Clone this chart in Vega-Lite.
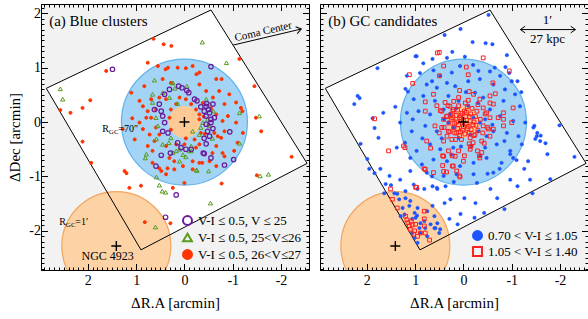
{
"$schema": "https://vega.github.io/schema/vega-lite/v6.json",
"padding": {"left": 7, "top": 0, "right": 0, "bottom": 0},
"background": "white",
"spacing": 9,
"config": {
  "view": {"fill": "#f2f2f2", "stroke": "black", "strokeWidth": 1},
  "axis": {"domainColor": "black", "tickColor": "black", "labelColor": "black", "titleColor": "black", "labelFont": "Liberation Serif", "titleFont": "Liberation Serif", "titleFontWeight": "normal", "grid": false, "labelOverlap": false, "labelFontSize": 14, "titleFontSize": 15, "tickWidth": 1, "domainWidth": 1},
  "legend": {"labelFont": "Liberation Serif", "labelColor": "black", "labelFontSize": 13},
  "point": {"opacity": 1},
  "text": {"font": "Liberation Serif", "color": "black"}
},
"datasets": {
  "sq": [{"x": -0.55, "y": 2.06, "o": 0}, {"x": 2.86, "y": 0.62, "o": 1}, {"x": 0.9, "y": -2.35, "o": 2}, {"x": -2.54, "y": -0.76, "o": 3}],
  "L": [
{"x":0.64,"y":1.53,"c":"r"},{"x":0.43,"y":1.43,"c":"r"},{"x":0.27,"y":1.40,"c":"r"},{"x":1.62,"y":0.94,"c":"r"},{"x":1.95,"y":0.40,"c":"r"},{"x":2.11,"y":0.26,"c":"r"},{"x":2.36,"y":0.17,"c":"r"},{"x":2.57,"y":0.22,"c":"r"},{"x":-1.14,"y":1.16,"c":"r"},{"x":-1.45,"y":0.66,"c":"r"},{"x":-1.59,"y":-0.17,"c":"r"},{"x":-2.22,"y":-0.64,"c":"r"},{"x":2.11,"y":-0.36,"c":"r"},{"x":1.93,"y":-0.75,"c":"r"},{"x":1.24,"y":-0.90,"c":"r"},{"x":1.20,"y":-0.94,"c":"r"},{"x":1.14,"y":-1.21,"c":"r"},{"x":0.90,"y":-1.17,"c":"r"},{"x":0.82,"y":-1.84,"c":"r"},{"x":0.29,"y":-1.86,"c":"r"},{"x":-0.77,"y":-1.13,"c":"r"},{"x":-1.50,"y":-0.98,"c":"r"},{"x":1.28,"y":-0.13,"c":"r"},{"x":-1.48,"y":0.08,"c":"r"},{"x":0.0,"y":-1.12,"c":"r"},{"x":0.24,"y":-1.21,"c":"r"},
{"x":0.76,"y":1.09,"c":"r"},{"x":0.55,"y":1.03,"c":"r"},{"x":0.34,"y":1.0,"c":"r"},{"x":0.14,"y":1.0,"c":"r"},{"x":-0.03,"y":0.99,"c":"r"},{"x":-0.17,"y":1.03,"c":"r"},{"x":-0.31,"y":0.91,"c":"r"},{"x":-0.66,"y":0.79,"c":"r"},{"x":0.83,"y":0.66,"c":"r"},{"x":1.1,"y":0.54,"c":"r"},{"x":0.86,"y":0.29,"c":"r"},{"x":0.79,"y":0.08,"c":"r"},{"x":0.93,"y":-0.01,"c":"r"},{"x":0.86,"y":-0.13,"c":"r"},{"x":1.03,"y":-0.32,"c":"r"},{"x":0.72,"y":-0.23,"c":"r"},{"x":0.62,"y":-0.35,"c":"r"},{"x":0.76,"y":-0.44,"c":"r"},{"x":0.66,"y":-0.53,"c":"r"},{"x":0.38,"y":-0.44,"c":"r"},{"x":0.31,"y":-0.66,"c":"r"},{"x":0.21,"y":-0.72,"c":"r"},{"x":0.03,"y":-0.81,"c":"r"},{"x":-0.17,"y":-0.72,"c":"r"},{"x":-0.31,"y":-0.75,"c":"r"},{"x":-0.52,"y":-0.72,"c":"r"},{"x":-0.66,"y":-0.81,"c":"r"},{"x":-0.83,"y":-0.63,"c":"r"},{"x":-1.03,"y":-0.53,"c":"r"},{"x":-1.1,"y":-0.38,"c":"r"},{"x":-1.21,"y":-0.20,"c":"r"},{"x":-1.07,"y":-0.01,"c":"r"},{"x":-1.17,"y":0.26,"c":"r"},{"x":-1.07,"y":0.36,"c":"r"},{"x":-0.93,"y":0.51,"c":"r"},{"x":-0.72,"y":0.57,"c":"r"},{"x":-0.66,"y":0.14,"c":"r"},{"x":-0.79,"y":0.02,"c":"r"},{"x":-0.76,"y":-0.29,"c":"r"},{"x":-0.66,"y":-0.44,"c":"r"},{"x":-0.31,"y":-0.41,"c":"r"},{"x":-0.21,"y":-0.32,"c":"r"},{"x":-0.03,"y":-0.30,"c":"r"},{"x":0.28,"y":-0.14,"c":"r"},{"x":0.31,"y":0.08,"c":"r"},{"x":0.28,"y":0.23,"c":"r"},{"x":0.17,"y":0.33,"c":"r"},{"x":0.10,"y":0.45,"c":"r"},{"x":-0.03,"y":0.42,"c":"r"},{"x":-0.14,"y":0.33,"c":"r"},{"x":-0.24,"y":0.23,"c":"r"},{"x":-0.31,"y":0.14,"c":"r"},{"x":-0.31,"y":0.05,"c":"r"},{"x":-0.34,"y":-0.20,"c":"r"},{"x":-0.24,"y":-0.47,"c":"r"},{"x":0.0,"y":-0.41,"c":"r"},{"x":0.17,"y":-0.41,"c":"r"},{"x":0.52,"y":-0.23,"c":"r"},{"x":0.59,"y":-0.10,"c":"r"},{"x":0.69,"y":0.08,"c":"r"},{"x":0.59,"y":0.23,"c":"r"},{"x":0.52,"y":0.45,"c":"r"},{"x":0.38,"y":0.42,"c":"r"},{"x":0.76,"y":0.20,"c":"r"},{"x":0.69,"y":0.42,"c":"r"},{"x":0.45,"y":0.79,"c":"r"},{"x":0.28,"y":0.72,"c":"r"},{"x":-0.31,"y":0.69,"c":"r"},{"x":-0.45,"y":0.57,"c":"r"},{"x":-0.59,"y":0.45,"c":"r"},{"x":-0.83,"y":0.33,"c":"r"},{"x":-0.90,"y":0.11,"c":"r"},{"x":-0.83,"y":-0.17,"c":"r"},{"x":-0.69,"y":-0.26,"c":"r"},{"x":-0.17,"y":-0.87,"c":"r"},{"x":0.21,"y":-0.87,"c":"r"},{"x":0.38,"y":-0.96,"c":"r"},{"x":0.48,"y":-0.90,"c":"r"},{"x":0.66,"y":-0.75,"c":"r"},{"x":0.52,"y":-0.85,"c":"r"},{"x":0.35,"y":-0.85,"c":"r"},{"x":-0.37,"y":-0.75,"c":"r"},{"x":-0.58,"y":-0.57,"c":"r"},{"x":-0.79,"y":-0.57,"c":"r"},{"x":0.93,"y":0.39,"c":"r"},{"x":1.08,"y":0.07,"c":"r"},{"x":-1.2,"y":0.2,"c":"r"},{"x":-0.77,"y":0.79,"c":"r"},{"x":-0.25,"y":0.88,"c":"r"},{"x":0.39,"y":0.97,"c":"r"},{"x":-0.40,"y":0.10,"c":"r"},{"x":-0.50,"y":-0.05,"c":"r"},{"x":-0.42,"y":-0.22,"c":"r"},{"x":-0.55,"y":0.25,"c":"r"},{"x":-0.38,"y":0.35,"c":"r"},{"x":-0.62,"y":-0.20,"c":"r"},
{"x":-0.37,"y":1.47,"c":"g"},{"x":-0.87,"y":1.09,"c":"g"},{"x":2.57,"y":0.61,"c":"g"},{"x":2.52,"y":0.42,"c":"g"},{"x":-1.55,"y":0.11,"c":"g"},{"x":0.25,"y":0.72,"c":"g"},{"x":0.62,"y":0.77,"c":"g"},{"x":0.58,"y":-0.31,"c":"g"},{"x":0.79,"y":-0.59,"c":"g"},{"x":0.81,"y":-0.66,"c":"g"},{"x":-0.14,"y":-0.53,"c":"g"},{"x":-0.25,"y":-0.88,"c":"g"},{"x":-1.14,"y":-0.39,"c":"g"},{"x":0.58,"y":-1.01,"c":"g"},{"x":0.52,"y":-1.16,"c":"g"},{"x":0.46,"y":-1.27,"c":"g"},{"x":0.39,"y":-1.29,"c":"g"},{"x":-0.54,"y":-1.49,"c":"g"},{"x":-1.57,"y":-0.99,"c":"g"},{"x":-1.74,"y":-0.96,"c":"g"},{"x":0.6,"y":-1.93,"c":"g"},{"x":0.66,"y":0.51,"c":"g"},{"x":0.24,"y":0.72,"c":"g"},{"x":-1.14,"y":0.17,"c":"g"},{"x":-0.26,"y":-0.89,"c":"g"},{"x":-0.50,"y":-0.90,"c":"g"},{"x":0.45,"y":0.54,"c":"g"},{"x":0.31,"y":0.45,"c":"g"},{"x":0.14,"y":0.34,"c":"g"},{"x":-0.45,"y":0.42,"c":"g"},{"x":-0.52,"y":0.33,"c":"g"},{"x":-0.38,"y":-0.01,"c":"g"},{"x":-0.34,"y":-0.10,"c":"g"},{"x":-0.52,"y":-0.07,"c":"g"},{"x":-0.31,"y":-0.23,"c":"g"},{"x":-0.14,"y":-0.44,"c":"g"},{"x":0.10,"y":-0.50,"c":"g"},{"x":0.17,"y":-0.53,"c":"g"},{"x":0.24,"y":-0.56,"c":"g"},{"x":0.32,"y":-0.38,"c":"g"},{"x":0.45,"y":-0.41,"c":"g"},{"x":-0.10,"y":-0.53,"c":"g"},{"x":0.28,"y":-0.29,"c":"g"},{"x":0.55,"y":-0.07,"c":"g"},{"x":0.59,"y":0.08,"c":"g"},{"x":0.66,"y":0.36,"c":"g"},{"x":-0.17,"y":-0.17,"c":"g"},{"x":0.03,"y":-0.60,"c":"g"},{"x":-0.03,"y":-0.64,"c":"g"},{"x":0.10,"y":-0.72,"c":"g"},{"x":-0.60,"y":0.20,"c":"g"},{"x":-0.58,"y":-0.30,"c":"g"},{"x":-0.48,"y":0.05,"c":"g"},{"x":0.2,"y":0.62,"c":"g"},{"x":-0.05,"y":0.66,"c":"g"},
{"x":1.49,"y":0.97,"c":"p"},{"x":-0.55,"y":1.02,"c":"p"},{"x":0.12,"y":0.66,"c":"p"},{"x":0.05,"y":0.63,"c":"p"},{"x":-0.05,"y":0.58,"c":"p"},{"x":-0.09,"y":0.54,"c":"p"},{"x":0.31,"y":0.60,"c":"p"},{"x":0.41,"y":0.51,"c":"p"},{"x":0.52,"y":0.33,"c":"p"},{"x":0.62,"y":0.23,"c":"p"},{"x":0.48,"y":0.20,"c":"p"},{"x":0.45,"y":0.11,"c":"p"},{"x":0.41,"y":-0.01,"c":"p"},{"x":0.45,"y":-0.17,"c":"p"},{"x":0.34,"y":-0.20,"c":"p"},{"x":0.14,"y":-0.38,"c":"p"},{"x":0.07,"y":-0.47,"c":"p"},{"x":-0.03,"y":-0.50,"c":"p"},{"x":-0.14,"y":-0.50,"c":"p"},{"x":-0.41,"y":-0.58,"c":"p"},{"x":-0.55,"y":-0.66,"c":"p"},{"x":0.48,"y":-0.61,"c":"p"},{"x":0.59,"y":-0.81,"c":"p"},{"x":-0.83,"y":-0.79,"c":"p"},{"x":-1.02,"y":-0.69,"c":"p"},{"x":-0.94,"y":-0.18,"c":"p"},{"x":-0.26,"y":0.39,"c":"p"},{"x":-0.21,"y":0.42,"c":"p"},{"x":-0.34,"y":0.28,"c":"p"},{"x":-0.46,"y":0.34,"c":"p"},{"x":-0.59,"y":0.33,"c":"p"},{"x":-0.41,"y":0.20,"c":"p"},{"x":-0.45,"y":0.11,"c":"p"},{"x":-0.52,"y":0.17,"c":"p"},{"x":-0.55,"y":0.05,"c":"p"},{"x":-0.45,"y":-0.04,"c":"p"},{"x":-0.48,"y":-0.17,"c":"p"},{"x":-0.52,"y":-0.26,"c":"p"},{"x":-0.41,"y":-0.30,"c":"p"},{"x":-0.59,"y":-0.12,"c":"p"},{"x":-0.55,"y":-0.01,"c":"p"},{"x":-0.62,"y":0.08,"c":"p"},{"x":-0.50,"y":0.23,"c":"p"},{"x":-0.45,"y":0.29,"c":"p"},{"x":0.29,"y":-0.57,"c":"p"},{"x":-0.39,"y":-0.57,"c":"p"},{"x":0.17,"y":-1.34,"c":"p"},{"x":0.39,"y":-1.75,"c":"p"},{"x":-0.45,"y":-0.40,"c":"p"}
  ],
  "R": [
{"x":0.97,"y":1.21,"c":"b"},{"x":0.34,"y":1.18,"c":"b"},{"x":-0.03,"y":1.2,"c":"b"},{"x":-0.90,"y":1.23,"c":"b"},{"x":1.17,"y":0.85,"c":"b"},{"x":0.62,"y":0.95,"c":"b"},{"x":0.48,"y":0.85,"c":"b"},{"x":0.24,"y":0.91,"c":"b"},{"x":0.07,"y":1.03,"c":"b"},{"x":-0.31,"y":0.94,"c":"b"},{"x":-0.55,"y":0.93,"c":"b"},{"x":-0.76,"y":0.85,"c":"b"},{"x":-1.0,"y":0.75,"c":"b"},{"x":0.76,"y":0.69,"c":"b"},{"x":0.55,"y":0.63,"c":"b"},{"x":0.34,"y":0.72,"c":"b"},{"x":0.17,"y":0.66,"c":"b"},{"x":-0.10,"y":0.75,"c":"b"},{"x":-0.34,"y":0.79,"c":"b"},{"x":-0.62,"y":0.69,"c":"b"},{"x":-0.86,"y":0.60,"c":"b"},{"x":-1.07,"y":0.51,"c":"b"},{"x":1.03,"y":0.42,"c":"b"},{"x":0.83,"y":0.48,"c":"b"},{"x":0.59,"y":0.39,"c":"b"},{"x":0.31,"y":0.48,"c":"b"},{"x":0.10,"y":0.39,"c":"b"},{"x":-0.24,"y":0.54,"c":"b"},{"x":-0.41,"y":0.45,"c":"b"},{"x":-0.83,"y":0.39,"c":"b"},{"x":-1.17,"y":0.29,"c":"b"},{"x":1.17,"y":0.17,"c":"b"},{"x":0.93,"y":0.20,"c":"b"},{"x":0.69,"y":0.14,"c":"b"},{"x":0.41,"y":0.23,"c":"b"},{"x":-0.55,"y":0.23,"c":"b"},{"x":-0.76,"y":0.11,"c":"b"},{"x":-1.03,"y":0.02,"c":"b"},{"x":-1.28,"y":-0.01,"c":"b"},{"x":1.31,"y":-0.01,"c":"b"},{"x":1.07,"y":-0.17,"c":"b"},{"x":0.79,"y":-0.07,"c":"b"},{"x":0.55,"y":-0.17,"c":"b"},{"x":-0.62,"y":-0.17,"c":"b"},{"x":-0.90,"y":-0.20,"c":"b"},{"x":-1.14,"y":-0.26,"c":"b"},{"x":1.21,"y":-0.38,"c":"b"},{"x":0.97,"y":-0.53,"c":"b"},{"x":0.69,"y":-0.41,"c":"b"},{"x":0.48,"y":-0.50,"c":"b"},{"x":0.21,"y":-0.47,"c":"b"},{"x":-0.17,"y":-0.44,"c":"b"},{"x":-0.45,"y":-0.47,"c":"b"},{"x":-0.69,"y":-0.41,"c":"b"},{"x":-0.97,"y":-0.53,"c":"b"},{"x":-1.21,"y":-0.41,"c":"b"},{"x":1.1,"y":-0.66,"c":"b"},{"x":0.86,"y":-0.78,"c":"b"},{"x":0.62,"y":-0.69,"c":"b"},{"x":0.34,"y":-0.72,"c":"b"},{"x":0.07,"y":-0.81,"c":"b"},{"x":-0.21,"y":-0.75,"c":"b"},{"x":-0.48,"y":-0.66,"c":"b"},{"x":-0.79,"y":-0.75,"c":"b"},{"x":-1.03,"y":-0.66,"c":"b"},{"x":0.76,"y":-0.93,"c":"b"},{"x":0.41,"y":-0.99,"c":"b"},{"x":0.14,"y":-0.96,"c":"b"},{"x":-0.21,"y":-0.96,"c":"b"},{"x":-0.62,"y":-0.93,"c":"b"},{"x":1.31,"y":-1.06,"c":"b"},{"x":1.03,"y":-1.15,"c":"b"},{"x":0.55,"y":-1.21,"c":"b"},{"x":-0.28,"y":-1.12,"c":"b"},{"x":-0.97,"y":-1.06,"c":"b"},{"x":-1.38,"y":-1.06,"c":"b"},{"x":-1.52,"y":-0.26,"c":"b"},{"x":-1.59,"y":-0.35,"c":"b"},{"x":-1.45,"y":-0.10,"c":"b"},{"x":-1.34,"y":-0.72,"c":"b"},{"x":1.38,"y":-0.47,"c":"b"},{"x":0.28,"y":0.14,"c":"b"},{"x":0.21,"y":-0.10,"c":"b"},{"x":-0.21,"y":0.08,"c":"b"},{"x":-0.31,"y":-0.17,"c":"b"},{"x":0.10,"y":-0.29,"c":"b"},{"x":-0.14,"y":-0.23,"c":"b"},{"x":0.31,"y":-0.01,"c":"b"},{"x":-0.34,"y":-0.01,"c":"b"},{"x":-0.48,"y":-0.26,"c":"b"},{"x":0.15,"y":0.25,"c":"b"},{"x":-0.1,"y":0.3,"c":"b"},{"x":0.4,"y":0.05,"c":"b"},{"x":-0.45,"y":0.05,"c":"b"},{"x":0.05,"y":-0.45,"c":"b"},{"x":-0.05,"y":0.55,"c":"b"},{"x":0.45,"y":-0.3,"c":"b"},{"x":-0.3,"y":0.35,"c":"b"},{"x":0.25,"y":-0.6,"c":"b"},{"x":-0.6,"y":-0.05,"c":"b"},{"x":0.9,"y":0.9,"c":"b"},{"x":0.65,"y":0.75,"c":"b"},{"x":-0.2,"y":1.05,"c":"b"},{"x":-0.65,"y":1.0,"c":"b"},{"x":1.05,"y":0.05,"c":"b"},{"x":-1.1,"y":-0.7,"c":"b"},{"x":0.2,"y":-1.1,"c":"b"},{"x":-0.5,"y":-0.95,"c":"b"},{"x":-0.85,"y":-0.35,"c":"b"},{"x":0.85,"y":-0.3,"c":"b"},{"x":1.1,"y":-0.9,"c":"b"},{"x":0.65,"y":-1.0,"c":"b"},{"x":-1.2,"y":0.55,"c":"b"},{"x":-0.95,"y":0.9,"c":"b"},
{"x":-0.52,"y":1.97,"c":"b"},{"x":0.06,"y":1.71,"c":"b"},{"x":0.39,"y":1.60,"c":"b"},{"x":-0.19,"y":1.47,"c":"b"},{"x":-0.46,"y":1.45,"c":"b"},{"x":-0.6,"y":1.43,"c":"b"},{"x":0.99,"y":1.21,"c":"b"},{"x":0.83,"y":1.08,"c":"b"},{"x":0.64,"y":1.16,"c":"b"},{"x":0.23,"y":1.29,"c":"b"},{"x":1.78,"y":0.99,"c":"b"},{"x":-0.87,"y":1.01,"c":"b"},{"x":-1.12,"y":0.75,"c":"b"},{"x":2.19,"y":0.48,"c":"b"},{"x":2.15,"y":0.44,"c":"b"},{"x":1.66,"y":0.17,"c":"b"},{"x":1.41,"y":0.28,"c":"b"},{"x":1.84,"y":-0.11,"c":"b"},{"x":-1.47,"y":-0.07,"c":"b"},{"x":-1.53,"y":-0.2,"c":"b"},{"x":1.2,"y":0.61,"c":"b"},{"x":1.15,"y":0.56,"c":"b"},{"x":2.26,"y":0.33,"c":"b"},{"x":1.88,"y":0.07,"c":"b"},{"x":1.76,"y":-0.29,"c":"b"},{"x":2.13,"y":-0.4,"c":"b"},{"x":-1.99,"y":-0.06,"c":"b"},{"x":-2.3,"y":-0.64,"c":"b"},{"x":-1.7,"y":-0.39,"c":"b"},{"x":-1.6,"y":-0.25,"c":"b"},
{"x":1.99,"y":-0.68,"c":"b"},{"x":1.72,"y":-0.86,"c":"b"},{"x":1.53,"y":-0.99,"c":"b"},{"x":1.61,"y":-1.14,"c":"b"},{"x":1.5,"y":-1.16,"c":"b"},{"x":1.37,"y":-1.32,"c":"b"},{"x":1.2,"y":-1.27,"c":"b"},{"x":0.95,"y":-1.23,"c":"b"},{"x":0.81,"y":-1.23,"c":"b"},{"x":0.64,"y":-1.18,"c":"b"},{"x":0.54,"y":-1.23,"c":"b"},{"x":0.37,"y":-1.18,"c":"b"},{"x":0.27,"y":-1.42,"c":"b"},{"x":-0.02,"y":-1.40,"c":"b"},{"x":-0.25,"y":-1.49,"c":"b"},{"x":-0.56,"y":-1.23,"c":"b"},{"x":-0.70,"y":-1.40,"c":"b"},{"x":-1.12,"y":-1.18,"c":"b"},{"x":-1.26,"y":-0.86,"c":"b"},{"x":-1.74,"y":-0.59,"c":"b"},{"x":-1.49,"y":-0.31,"c":"b"},{"x":-1.8,"y":-1.05,"c":"b"},{"x":-1.43,"y":-1.31,"c":"b"},{"x":-0.85,"y":-1.6,"c":"b"},{"x":-0.43,"y":-1.67,"c":"b"},{"x":-0.23,"y":-1.76,"c":"b"},{"x":0.06,"y":-1.69,"c":"b"},{"x":0.12,"y":-1.88,"c":"b"},{"x":0.29,"y":-1.78,"c":"b"},{"x":0.60,"y":-1.95,"c":"b"},{"x":0.50,"y":-2.04,"c":"b"},{"x":0.75,"y":-2.1,"c":"b"},{"x":0.39,"y":-1.49,"c":"b"},{"x":0.64,"y":-1.54,"c":"b"},{"x":0.95,"y":-1.58,"c":"b"},{"x":1.26,"y":-1.58,"c":"b"},{"x":1.64,"y":-1.31,"c":"b"},{"x":1.3,"y":-1.73,"c":"b"},{"x":1.22,"y":-1.70,"c":"b"},{"x":1.06,"y":-1.78,"c":"b"},{"x":0.99,"y":-1.76,"c":"b"},{"x":0.89,"y":-2.04,"c":"b"},{"x":1.01,"y":-2.13,"c":"b"},{"x":0.95,"y":-2.22,"c":"b"},{"x":0.81,"y":-1.82,"c":"b"},{"x":0.75,"y":-1.64,"c":"b"},{"x":0.60,"y":-1.73,"c":"b"},{"x":0.54,"y":-1.86,"c":"b"},{"x":1.1,"y":-1.45,"c":"b"},{"x":1.33,"y":-1.42,"c":"b"},{"x":1.43,"y":-1.31,"c":"b"},{"x":1.84,"y":-0.94,"c":"b"},{"x":1.95,"y":-0.86,"c":"b"},{"x":-0.35,"y":-0.62,"c":"b"},{"x":-0.75,"y":-0.86,"c":"b"},{"x":-0.97,"y":-0.59,"c":"b"},{"x":1.2,"y":-1.4,"c":"b"},{"x":1.12,"y":-1.54,"c":"b"},{"x":1.01,"y":-1.67,"c":"b"},{"x":0.96,"y":-1.72,"c":"b"},{"x":0.89,"y":-1.86,"c":"b"},{"x":0.79,"y":-1.95,"c":"b"},{"x":0.68,"y":-1.88,"c":"b"},{"x":0.58,"y":-1.95,"c":"b"},{"x":0.48,"y":-1.97,"c":"b"},{"x":1.06,"y":-2.04,"c":"b"},{"x":0.91,"y":-1.95,"c":"b"},
{"x":1.12,"y":0.87,"c":"s"},{"x":0.50,"y":1.28,"c":"s"},{"x":-0.41,"y":1.18,"c":"s"},{"x":0.41,"y":1.03,"c":"s"},{"x":-0.06,"y":1.01,"c":"s"},{"x":-0.95,"y":0.94,"c":"s"},{"x":1.05,"y":0.71,"c":"s"},{"x":-0.10,"y":0.87,"c":"s"},{"x":0.50,"y":0.85,"c":"s"},{"x":-0.61,"y":0.72,"c":"s"},{"x":-0.66,"y":0.52,"c":"s"},{"x":0.62,"y":0.51,"c":"s"},{"x":0.08,"y":0.58,"c":"s"},{"x":-0.12,"y":0.56,"c":"s"},{"x":-0.21,"y":0.51,"c":"s"},{"x":-0.34,"y":0.42,"c":"s"},{"x":-0.55,"y":0.48,"c":"s"},{"x":-0.62,"y":0.33,"c":"s"},{"x":0.79,"y":0.37,"c":"s"},{"x":0.38,"y":0.36,"c":"s"},{"x":0.28,"y":0.29,"c":"s"},{"x":0.21,"y":0.23,"c":"s"},{"x":0.48,"y":0.21,"c":"s"},{"x":0.79,"y":0.20,"c":"s"},{"x":-0.83,"y":0.17,"c":"s"},{"x":-1.03,"y":0.26,"c":"s"},{"x":0.59,"y":-0.07,"c":"s"},{"x":0.45,"y":-0.10,"c":"s"},{"x":0.76,"y":-0.35,"c":"s"},{"x":0.41,"y":-0.35,"c":"s"},{"x":0.34,"y":-0.26,"c":"s"},{"x":0.14,"y":-0.20,"c":"s"},{"x":-0.14,"y":-0.29,"c":"s"},{"x":-0.24,"y":-0.23,"c":"s"},{"x":-0.38,"y":-0.35,"c":"s"},{"x":-0.55,"y":-0.26,"c":"s"},{"x":-0.62,"y":-0.13,"c":"s"},{"x":-0.83,"y":-0.07,"c":"s"},{"x":-1.0,"y":-0.01,"c":"s"},{"x":1.21,"y":-0.47,"c":"s"},{"x":0.41,"y":-0.63,"c":"s"},{"x":0.31,"y":-0.53,"c":"s"},{"x":0.17,"y":-0.63,"c":"s"},{"x":0.10,"y":-0.53,"c":"s"},{"x":0.0,"y":-0.72,"c":"s"},{"x":-0.14,"y":-0.50,"c":"s"},{"x":-0.34,"y":-0.66,"c":"s"},{"x":-0.38,"y":-0.56,"c":"s"},{"x":0.79,"y":-0.87,"c":"s"},{"x":0.62,"y":-0.93,"c":"s"},{"x":0.41,"y":-0.91,"c":"s"},{"x":0.14,"y":-0.90,"c":"s"},{"x":0.07,"y":-1.01,"c":"s"},{"x":0.97,"y":-1.2,"c":"s"},{"x":0.21,"y":-0.81,"c":"s"},{"x":-0.41,"y":0.26,"c":"s"},{"x":-0.48,"y":0.17,"c":"s"},{"x":-0.55,"y":0.08,"c":"s"},{"x":-0.72,"y":0.08,"c":"s"},{"x":-0.41,"y":-0.07,"c":"s"},{"x":-0.52,"y":-0.13,"c":"s"},{"x":0.34,"y":0.11,"c":"s"},{"x":0.41,"y":0.05,"c":"s"},{"x":0.31,"y":-0.17,"c":"s"},{"x":0.24,"y":-0.32,"c":"s"},{"x":-0.83,"y":0.05,"c":"s"},{"x":0.54,"y":1.27,"c":"s"},{"x":1.84,"y":0.06,"c":"s"},
{"x":0.05,"y":0.05,"c":"s"},{"x":-0.05,"y":0.1,"c":"s"},{"x":0.1,"y":-0.05,"c":"s"},{"x":-0.1,"y":-0.08,"c":"s"},{"x":0.15,"y":0.12,"c":"s"},{"x":-0.15,"y":0.15,"c":"s"},{"x":0.2,"y":-0.1,"c":"s"},{"x":-0.2,"y":-0.05,"c":"s"},{"x":0.02,"y":-0.15,"c":"s"},{"x":-0.02,"y":0.2,"c":"s"},{"x":0.12,"y":0.22,"c":"s"},{"x":-0.12,"y":-0.2,"c":"s"},{"x":0.25,"y":0.05,"c":"s"},{"x":-0.25,"y":0.1,"c":"s"},{"x":0.08,"y":-0.25,"c":"s"},{"x":-0.08,"y":0.28,"c":"s"},{"x":0.18,"y":-0.2,"c":"s"},{"x":-0.18,"y":0.25,"c":"s"},{"x":0.3,"y":-0.02,"c":"s"},{"x":-0.3,"y":-0.15,"c":"s"},{"x":0.0,"y":0.02,"c":"s"},{"x":0.06,"y":0.12,"c":"s"},{"x":-0.06,"y":-0.04,"c":"s"},{"x":0.1,"y":0.3,"c":"s"},{"x":-0.22,"y":-0.25,"c":"s"},{"x":0.22,"y":0.2,"c":"s"},{"x":0.28,"y":-0.18,"c":"s"},{"x":-0.28,"y":0.2,"c":"s"},{"x":0.35,"y":0.1,"c":"s"},{"x":-0.35,"y":0.05,"c":"s"},{"x":0.04,"y":-0.32,"c":"s"},{"x":-0.04,"y":0.35,"c":"s"},{"x":0.14,"y":0.0,"c":"s"},{"x":-0.14,"y":0.02,"c":"s"},{"x":0.0,"y":-0.08,"c":"s"},{"x":0.16,"y":-0.32,"c":"s"},{"x":-0.1,"y":0.4,"c":"s"},{"x":0.4,"y":-0.1,"c":"s"},{"x":-0.4,"y":-0.2,"c":"s"},{"x":0.32,"y":0.3,"c":"s"},{"x":-0.3,"y":0.32,"c":"s"},{"x":0.2,"y":0.38,"c":"s"},{"x":-0.2,"y":-0.38,"c":"s"},{"x":0.45,"y":0.2,"c":"s"},{"x":-0.45,"y":0.15,"c":"s"},{"x":0.08,"y":0.08,"c":"s"},{"x":-0.08,"y":-0.12,"c":"s"},{"x":0.12,"y":-0.12,"c":"s"},{"x":-0.12,"y":0.1,"c":"s"},{"x":0.03,"y":0.16,"c":"s"},{"x":-0.03,"y":-0.22,"c":"s"},{"x":0.22,"y":0.08,"c":"s"},{"x":-0.22,"y":0.0,"c":"s"},{"x":0.18,"y":-0.02,"c":"s"},{"x":-0.16,"y":-0.14,"c":"s"},{"x":0.26,"y":0.14,"c":"s"},{"x":-0.26,"y":-0.06,"c":"s"},{"x":0.06,"y":-0.18,"c":"s"},{"x":-0.06,"y":0.18,"c":"s"},{"x":0.5,"y":-0.2,"c":"s"},{"x":-0.5,"y":-0.1,"c":"s"},{"x":0.1,"y":0.45,"c":"s"},{"x":-0.15,"y":-0.45,"c":"s"},{"x":0.55,"y":0.3,"c":"s"},{"x":-0.55,"y":0.35,"c":"s"},
{"x":1.55,"y":-0.53,"c":"s"},{"x":1.51,"y":-1.23,"c":"s"},{"x":1.47,"y":-1.42,"c":"s"},{"x":1.37,"y":-1.58,"c":"s"},{"x":1.24,"y":-0.44,"c":"s"},{"x":0.99,"y":-1.2,"c":"s"},{"x":0.81,"y":-1.64,"c":"s"},{"x":1.2,"y":-1.73,"c":"s"},{"x":1.17,"y":-1.80,"c":"s"},{"x":1.12,"y":-1.91,"c":"s"},{"x":1.06,"y":-1.89,"c":"s"},{"x":0.99,"y":-1.88,"c":"s"},{"x":1.1,"y":-1.97,"c":"s"},{"x":1.01,"y":-2.0,"c":"s"},{"x":0.95,"y":-2.1,"c":"s"},{"x":0.81,"y":-1.91,"c":"s"},{"x":0.79,"y":-2.04,"c":"s"},{"x":0.89,"y":-2.04,"c":"s"},{"x":0.70,"y":-2.17,"c":"s"},{"x":1.03,"y":-2.06,"c":"s"},{"x":0.81,"y":-1.78,"c":"s"},{"x":1.15,"y":-1.85,"c":"s"},{"x":1.08,"y":-1.82,"c":"s"},
{"x":0.68,"y":-0.48,"c":"s"},{"x":0.43,"y":-0.62,"c":"s"},{"x":0.23,"y":-0.62,"c":"s"},{"x":-0.02,"y":-0.62,"c":"s"},{"x":0.23,"y":-0.81,"c":"s"},{"x":-0.12,"y":-0.40,"c":"s"},{"x":-0.29,"y":-0.53,"c":"s"},{"x":-0.33,"y":-0.62,"c":"s"},{"x":0.81,"y":-0.86,"c":"s"},{"x":0.43,"y":-0.80,"c":"s"},{"x":0.35,"y":-0.92,"c":"s"},{"x":0.08,"y":-0.99,"c":"s"},{"x":-0.43,"y":-0.39,"c":"s"}
  ]
},
"hconcat": [
{
  "width": 268, "height": 266,
  "encoding": {
    "x": {"field": "x", "type": "quantitative", "scale": {"domain": [-2.58, 2.97], "reverse": true, "nice": false, "zero": false}, "axis": null},
    "y": {"field": "y", "type": "quantitative", "scale": {"domain": [-2.72, 2.17], "nice": false, "zero": false}, "axis": null}
  },
  "layer": [
    {"data": {"name": "sq"}, "mark": {"type": "line", "interpolate": "linear-closed", "fill": "white", "stroke": "white", "strokeWidth": 0},
     "encoding": {
       "x": {"field": "x", "type": "quantitative", "scale": {"domain": [-2.58, 2.97], "reverse": true, "nice": false, "zero": false},
             "axis": {"orient": "bottom", "zindex": 1, "values": [-2.5,-2.4,-2.3,-2.2,-2.1,-2,-1.9,-1.8,-1.7,-1.6,-1.5,-1.4,-1.3,-1.2,-1.1,-1,-0.9,-0.8,-0.7,-0.6,-0.5,-0.4,-0.3,-0.2,-0.1,0,0.1,0.2,0.3,0.4,0.5,0.6,0.7,0.8,0.9,1,1.1,1.2,1.3,1.4,1.5,1.6,1.7,1.8,1.9,2,2.1,2.2,2.3,2.4,2.5,2.6,2.7,2.8,2.9],
                      "tickSize": {"condition": {"test": "abs(datum.value - round(datum.value)) < 0.01", "value": -6.5}, "value": -3},
                      "labelExpr": "abs(datum.value - round(datum.value)) < 0.01 ? '' + round(datum.value) : ''",
                      "labelPadding": 10, "title": "ΔR.A [arcmin]", "titlePadding": 4}},
       "y": {"field": "y", "type": "quantitative", "scale": {"domain": [-2.72, 2.17], "nice": false, "zero": false},
             "axis": {"orient": "left", "zindex": 1, "values": [-2.7,-2.6,-2.5,-2.4,-2.3,-2.2,-2.1,-2,-1.9,-1.8,-1.7,-1.6,-1.5,-1.4,-1.3,-1.2,-1.1,-1,-0.9,-0.8,-0.7,-0.6,-0.5,-0.4,-0.3,-0.2,-0.1,0,0.1,0.2,0.3,0.4,0.5,0.6,0.7,0.8,0.9,1,1.1,1.2,1.3,1.4,1.5,1.6,1.7,1.8,1.9,2,2.1],
                      "tickSize": {"condition": {"test": "abs(datum.value - round(datum.value)) < 0.01", "value": -6.5}, "value": -3},
                      "labelExpr": "abs(datum.value - round(datum.value)) < 0.01 ? '' + round(datum.value) : ''",
                      "labelPadding": 7, "title": "ΔDec [arcmin]", "titlePadding": 6}},
       "order": {"field": "o", "type": "quantitative"}
     }},
    {"data": {"values": [{"x": 0, "y": 0}]}, "mark": {"type": "point", "shape": "circle", "size": 15876, "filled": true, "fill": "#a3d3f5", "stroke": "#5fb3ec", "strokeWidth": 1.2, "opacity": 1},
     "encoding": {
       "x": {"field": "x", "type": "quantitative", "scale": {"domain": [-2.58, 2.97], "reverse": true, "nice": false, "zero": false},
             "axis": {"orient": "top", "zindex": 1, "values": [-2.5,-2.4,-2.3,-2.2,-2.1,-2,-1.9,-1.8,-1.7,-1.6,-1.5,-1.4,-1.3,-1.2,-1.1,-1,-0.9,-0.8,-0.7,-0.6,-0.5,-0.4,-0.3,-0.2,-0.1,0,0.1,0.2,0.3,0.4,0.5,0.6,0.7,0.8,0.9,1,1.1,1.2,1.3,1.4,1.5,1.6,1.7,1.8,1.9,2,2.1,2.2,2.3,2.4,2.5,2.6,2.7,2.8,2.9],
                      "tickSize": {"condition": {"test": "abs(datum.value - round(datum.value)) < 0.01", "value": -6.5}, "value": -3},
                      "labels": false, "title": null}},
       "y": {"field": "y", "type": "quantitative", "scale": {"domain": [-2.72, 2.17], "nice": false, "zero": false},
             "axis": {"orient": "right", "zindex": 1, "values": [-2.7,-2.6,-2.5,-2.4,-2.3,-2.2,-2.1,-2,-1.9,-1.8,-1.7,-1.6,-1.5,-1.4,-1.3,-1.2,-1.1,-1,-0.9,-0.8,-0.7,-0.6,-0.5,-0.4,-0.3,-0.2,-0.1,0,0.1,0.2,0.3,0.4,0.5,0.6,0.7,0.8,0.9,1,1.1,1.2,1.3,1.4,1.5,1.6,1.7,1.8,1.9,2,2.1],
                      "tickSize": {"condition": {"test": "abs(datum.value - round(datum.value)) < 0.01", "value": -6.5}, "value": -3},
                      "labels": false, "title": null}}
     }},
    {"data": {"values": [{"x": 0, "y": 0}]}, "mark": {"type": "point", "shape": "circle", "size": 1024, "filled": true, "fill": "#fdc994", "strokeWidth": 0, "opacity": 1}},
    {"data": {"values": [{"x": 1.41, "y": -2.28}]}, "mark": {"type": "point", "shape": "circle", "size": 11881, "filled": true, "fill": "#fdd3a6", "stroke": "#f2a55c", "strokeWidth": 1.2, "opacity": 1, "clip": true}},
    {"data": {"name": "sq"}, "mark": {"type": "line", "interpolate": "linear-closed", "stroke": "black", "strokeWidth": 1}, "encoding": {"order": {"field": "o", "type": "quantitative"}}},
    {"data": {"name": "L"}, "transform": [{"filter": "datum.c == 'r'"}], "mark": {"type": "point", "size": 9, "strokeWidth": 1, "opacity": 1},
     "encoding": {
       "shape": {"field": "c", "type": "nominal", "scale": {"domain": ["p", "g", "r"], "range": ["circle", "triangle-up", "circle"]}, "legend": {"title": null, "orient": "bottom-right", "offset": 7, "padding": 0, "symbolSize": 80, "symbolStrokeWidth": 2, "rowPadding": 0, "labelOffset": 4, "labelFontSize": 13, "labelExpr": "datum.label == 'p' ? 'V-I ≤ 0.5, V ≤ 25' : datum.label == 'g' ? 'V-I ≤ 0.5, 25<V≤26' : 'V-I ≤ 0.5, 26<V≤27'"}},
       "stroke": {"field": "c", "type": "nominal", "scale": {"domain": ["p", "g", "r"], "range": ["#6a1b9a", "#5b9b1e", "#ff3300"]}, "legend": {"title": null, "orient": "bottom-right", "offset": 7, "padding": 0, "symbolSize": 80, "symbolStrokeWidth": 2, "rowPadding": 0, "labelOffset": 4, "labelFontSize": 13, "labelExpr": "datum.label == 'p' ? 'V-I ≤ 0.5, V ≤ 25' : datum.label == 'g' ? 'V-I ≤ 0.5, 25<V≤26' : 'V-I ≤ 0.5, 26<V≤27'"}},
       "fill": {"field": "c", "type": "nominal", "scale": {"domain": ["p", "g", "r"], "range": ["transparent", "transparent", "#ff3300"]}, "legend": {"title": null, "orient": "bottom-right", "offset": 7, "padding": 0, "symbolSize": 80, "symbolStrokeWidth": 2, "rowPadding": 0, "labelOffset": 4, "labelFontSize": 13, "labelExpr": "datum.label == 'p' ? 'V-I ≤ 0.5, V ≤ 25' : datum.label == 'g' ? 'V-I ≤ 0.5, 25<V≤26' : 'V-I ≤ 0.5, 26<V≤27'"}}
     }},
    {"data": {"name": "L"}, "transform": [{"filter": "datum.c == 'g'"}], "mark": {"type": "point", "size": 18, "strokeWidth": 1, "opacity": 1},
     "encoding": {
       "shape": {"field": "c", "type": "nominal", "scale": {"domain": ["p", "g", "r"], "range": ["circle", "triangle-up", "circle"]}},
       "stroke": {"field": "c", "type": "nominal", "scale": {"domain": ["p", "g", "r"], "range": ["#6a1b9a", "#5b9b1e", "#ff3300"]}},
       "fill": {"field": "c", "type": "nominal", "scale": {"domain": ["p", "g", "r"], "range": ["transparent", "transparent", "#ff3300"]}}
     }},
    {"data": {"name": "L"}, "transform": [{"filter": "datum.c == 'p'"}], "mark": {"type": "point", "size": 20, "strokeWidth": 1.2, "opacity": 1},
     "encoding": {
       "shape": {"field": "c", "type": "nominal", "scale": {"domain": ["p", "g", "r"], "range": ["circle", "triangle-up", "circle"]}},
       "stroke": {"field": "c", "type": "nominal", "scale": {"domain": ["p", "g", "r"], "range": ["#6a1b9a", "#5b9b1e", "#ff3300"]}},
       "fill": {"field": "c", "type": "nominal", "scale": {"domain": ["p", "g", "r"], "range": ["transparent", "transparent", "#ff3300"]}}
     }},
    {"data": {"values": [{"x": 0, "y": 0}, {"x": 1.41, "y": -2.28}]}, "mark": {"type": "point", "shape": "M-1,0L1,0M0,-1L0,1", "size": 100, "filled": false, "stroke": "black", "strokeWidth": 1.4, "opacity": 1}},
    {"data": {"values": [{"x": 2.8, "y": 1.86, "t": "(a) Blue clusters"}]}, "mark": {"type": "text", "align": "left", "baseline": "middle", "fontSize": 15}, "encoding": {"text": {"field": "t"}}},
    {"data": {"values": [{"x": 1.59, "y": -2.46, "t": "NGC 4923"}]}, "mark": {"type": "text", "align": "center", "baseline": "middle", "fontSize": 12}, "encoding": {"text": {"field": "t"}}},
    {"data": {"values": [{"x": 1.70, "y": -0.13, "e": "=70″"}, {"x": 2.59, "y": -1.84, "e": "=1′"}]}, "mark": {"type": "text", "align": "left", "baseline": "middle", "fontSize": 10, "text": "R"}},
    {"data": {"values": [{"x": 1.70, "y": -0.13, "e": "=70″"}, {"x": 2.59, "y": -1.84, "e": "=1′"}]}, "mark": {"type": "text", "align": "left", "baseline": "middle", "fontSize": 7, "dx": 6.5, "dy": 3, "text": "GC"}},
    {"data": {"values": [{"x": 1.70, "y": -0.13, "e": "=70″"}, {"x": 2.59, "y": -1.84, "e": "=1′"}]}, "mark": {"type": "text", "align": "left", "baseline": "middle", "fontSize": 10, "dx": 16}, "encoding": {"text": {"field": "e"}}},
    {"data": {"values": [{"x": -1.66, "y": 1.55, "t": "Coma Center"}]}, "mark": {"type": "text", "align": "center", "baseline": "bottom", "fontSize": 11, "angle": -13, "dy": -1}, "encoding": {"text": {"field": "t"}}},
    {"data": {"values": [{"x": -1.01, "y": 1.415, "x2": -2.42, "y2": 1.71}]}, "mark": {"type": "rule", "color": "black", "strokeWidth": 1}, "encoding": {"x2": {"field": "x2"}, "y2": {"field": "y2"}}},
    {"data": {"values": [{"x": -2.42, "y": 1.71}]}, "mark": {"type": "point", "shape": "M-1,-0.7L0,0L-1,0.7", "size": 100, "filled": false, "stroke": "black", "strokeWidth": 1, "angle": -13, "opacity": 1}}
  ],
  "resolve": {"axis": {"x": "independent", "y": "independent"}}
},
{
  "width": 268, "height": 266,
  "encoding": {
    "x": {"field": "x", "type": "quantitative", "scale": {"domain": [-2.58, 2.97], "reverse": true, "nice": false, "zero": false}, "axis": null},
    "y": {"field": "y", "type": "quantitative", "scale": {"domain": [-2.72, 2.17], "nice": false, "zero": false}, "axis": null}
  },
  "layer": [
    {"data": {"name": "sq"}, "mark": {"type": "line", "interpolate": "linear-closed", "fill": "white", "stroke": "white", "strokeWidth": 0},
     "encoding": {
       "x": {"field": "x", "type": "quantitative", "scale": {"domain": [-2.58, 2.97], "reverse": true, "nice": false, "zero": false},
             "axis": {"orient": "bottom", "zindex": 1, "values": [-2.5,-2.4,-2.3,-2.2,-2.1,-2,-1.9,-1.8,-1.7,-1.6,-1.5,-1.4,-1.3,-1.2,-1.1,-1,-0.9,-0.8,-0.7,-0.6,-0.5,-0.4,-0.3,-0.2,-0.1,0,0.1,0.2,0.3,0.4,0.5,0.6,0.7,0.8,0.9,1,1.1,1.2,1.3,1.4,1.5,1.6,1.7,1.8,1.9,2,2.1,2.2,2.3,2.4,2.5,2.6,2.7,2.8,2.9],
                      "tickSize": {"condition": {"test": "abs(datum.value - round(datum.value)) < 0.01", "value": -6.5}, "value": -3},
                      "labelExpr": "abs(datum.value - round(datum.value)) < 0.01 ? '' + round(datum.value) : ''",
                      "labelPadding": 10, "title": "ΔR.A [arcmin]", "titlePadding": 4}},
       "y": {"field": "y", "type": "quantitative", "scale": {"domain": [-2.72, 2.17], "nice": false, "zero": false},
             "axis": {"orient": "left", "zindex": 1, "values": [-2.7,-2.6,-2.5,-2.4,-2.3,-2.2,-2.1,-2,-1.9,-1.8,-1.7,-1.6,-1.5,-1.4,-1.3,-1.2,-1.1,-1,-0.9,-0.8,-0.7,-0.6,-0.5,-0.4,-0.3,-0.2,-0.1,0,0.1,0.2,0.3,0.4,0.5,0.6,0.7,0.8,0.9,1,1.1,1.2,1.3,1.4,1.5,1.6,1.7,1.8,1.9,2,2.1],
                      "tickSize": {"condition": {"test": "abs(datum.value - round(datum.value)) < 0.01", "value": -6.5}, "value": -3},
                      "labels": false, "title": null}},
       "order": {"field": "o", "type": "quantitative"}
     }},
    {"data": {"values": [{"x": 0, "y": 0}]}, "mark": {"type": "point", "shape": "circle", "size": 15876, "filled": true, "fill": "#a3d3f5", "stroke": "#5fb3ec", "strokeWidth": 1.2, "opacity": 1},
     "encoding": {
       "x": {"field": "x", "type": "quantitative", "scale": {"domain": [-2.58, 2.97], "reverse": true, "nice": false, "zero": false},
             "axis": {"orient": "top", "zindex": 1, "values": [-2.5,-2.4,-2.3,-2.2,-2.1,-2,-1.9,-1.8,-1.7,-1.6,-1.5,-1.4,-1.3,-1.2,-1.1,-1,-0.9,-0.8,-0.7,-0.6,-0.5,-0.4,-0.3,-0.2,-0.1,0,0.1,0.2,0.3,0.4,0.5,0.6,0.7,0.8,0.9,1,1.1,1.2,1.3,1.4,1.5,1.6,1.7,1.8,1.9,2,2.1,2.2,2.3,2.4,2.5,2.6,2.7,2.8,2.9],
                      "tickSize": {"condition": {"test": "abs(datum.value - round(datum.value)) < 0.01", "value": -6.5}, "value": -3},
                      "labels": false, "title": null}},
       "y": {"field": "y", "type": "quantitative", "scale": {"domain": [-2.72, 2.17], "nice": false, "zero": false},
             "axis": {"orient": "right", "zindex": 1, "values": [-2.7,-2.6,-2.5,-2.4,-2.3,-2.2,-2.1,-2,-1.9,-1.8,-1.7,-1.6,-1.5,-1.4,-1.3,-1.2,-1.1,-1,-0.9,-0.8,-0.7,-0.6,-0.5,-0.4,-0.3,-0.2,-0.1,0,0.1,0.2,0.3,0.4,0.5,0.6,0.7,0.8,0.9,1,1.1,1.2,1.3,1.4,1.5,1.6,1.7,1.8,1.9,2,2.1],
                      "tickSize": {"condition": {"test": "abs(datum.value - round(datum.value)) < 0.01", "value": -6.5}, "value": -3},
                      "labels": false, "title": null}}
     }},
    {"data": {"values": [{"x": 0, "y": 0}]}, "mark": {"type": "point", "shape": "circle", "size": 1024, "filled": true, "fill": "#fdc994", "strokeWidth": 0, "opacity": 1}},
    {"data": {"values": [{"x": 1.41, "y": -2.28}]}, "mark": {"type": "point", "shape": "circle", "size": 11881, "filled": true, "fill": "#fdd3a6", "stroke": "#f2a55c", "strokeWidth": 1.2, "opacity": 1, "clip": true}},
    {"data": {"name": "sq"}, "mark": {"type": "line", "interpolate": "linear-closed", "stroke": "black", "strokeWidth": 1}, "encoding": {"order": {"field": "o", "type": "quantitative"}}},
    {"data": {"name": "R"}, "transform": [{"filter": "datum.c == 'b'"}], "mark": {"type": "point", "size": 11, "strokeWidth": 0.6, "opacity": 1},
     "encoding": {
       "shape": {"field": "c", "type": "nominal", "scale": {"domain": ["b", "s"], "range": ["circle", "square"]}, "legend": {"title": null, "orient": "bottom-right", "offset": 10, "padding": 0, "symbolSize": 80, "symbolStrokeWidth": 2, "rowPadding": -1, "labelOffset": 4, "labelFontSize": 13, "labelExpr": "datum.label == 'b' ? '0.70 < V-I ≤ 1.05' : '1.05 < V-I ≤ 1.40'"}},
       "stroke": {"field": "c", "type": "nominal", "scale": {"domain": ["b", "s"], "range": ["#1a53ff", "#ff1f1f"]}, "legend": {"title": null, "orient": "bottom-right", "offset": 10, "padding": 0, "symbolSize": 80, "symbolStrokeWidth": 2, "rowPadding": -1, "labelOffset": 4, "labelFontSize": 13, "labelExpr": "datum.label == 'b' ? '0.70 < V-I ≤ 1.05' : '1.05 < V-I ≤ 1.40'"}},
       "fill": {"field": "c", "type": "nominal", "scale": {"domain": ["b", "s"], "range": ["#1a53ff", "transparent"]}, "legend": {"title": null, "orient": "bottom-right", "offset": 10, "padding": 0, "symbolSize": 80, "symbolStrokeWidth": 2, "rowPadding": -1, "labelOffset": 4, "labelFontSize": 13, "labelExpr": "datum.label == 'b' ? '0.70 < V-I ≤ 1.05' : '1.05 < V-I ≤ 1.40'"}}
     }},
    {"data": {"name": "R"}, "transform": [{"filter": "datum.c == 's'"}], "mark": {"type": "point", "size": 14, "strokeWidth": 1, "opacity": 1},
     "encoding": {
       "shape": {"field": "c", "type": "nominal", "scale": {"domain": ["b", "s"], "range": ["circle", "square"]}},
       "stroke": {"field": "c", "type": "nominal", "scale": {"domain": ["b", "s"], "range": ["#1a53ff", "#ff1f1f"]}},
       "fill": {"field": "c", "type": "nominal", "scale": {"domain": ["b", "s"], "range": ["#1a53ff", "transparent"]}}
     }},
    {"data": {"values": [{"x": 0, "y": 0}, {"x": 1.41, "y": -2.28}]}, "mark": {"type": "point", "shape": "M-1,0L1,0M0,-1L0,1", "size": 100, "filled": false, "stroke": "black", "strokeWidth": 1.4, "opacity": 1}},
    {"data": {"values": [{"x": 2.8, "y": 1.86, "t": "(b) GC candidates"}]}, "mark": {"type": "text", "align": "left", "baseline": "middle", "fontSize": 15}, "encoding": {"text": {"field": "t"}}},
    {"data": {"values": [{"x": -1.74, "y": 1.87, "t": "1′"}, {"x": -1.74, "y": 1.53, "t": "27 kpc"}]}, "mark": {"type": "text", "align": "center", "baseline": "middle", "fontSize": 13}, "encoding": {"text": {"field": "t"}}},
    {"data": {"values": [{"x": -1.18, "y": 1.70, "x2": -2.32, "y2": 1.70}]}, "mark": {"type": "rule", "color": "black", "strokeWidth": 1}, "encoding": {"x2": {"field": "x2"}, "y2": {"field": "y2"}}},
    {"data": {"values": [{"x": -2.32, "y": 1.70, "a": 0}, {"x": -1.18, "y": 1.70, "a": 180}]}, "mark": {"type": "point", "shape": "M-1,-0.7L0,0L-1,0.7", "size": 90, "filled": false, "stroke": "black", "strokeWidth": 1, "opacity": 1}, "encoding": {"angle": {"field": "a", "type": "quantitative", "scale": null}}}
  ],
  "resolve": {"axis": {"x": "independent", "y": "independent"}}
}
],
"resolve": {"scale": {"x": "independent", "y": "independent", "shape": "independent", "stroke": "independent", "fill": "independent"}, "legend": {"shape": "independent", "stroke": "independent", "fill": "independent"}}
}
